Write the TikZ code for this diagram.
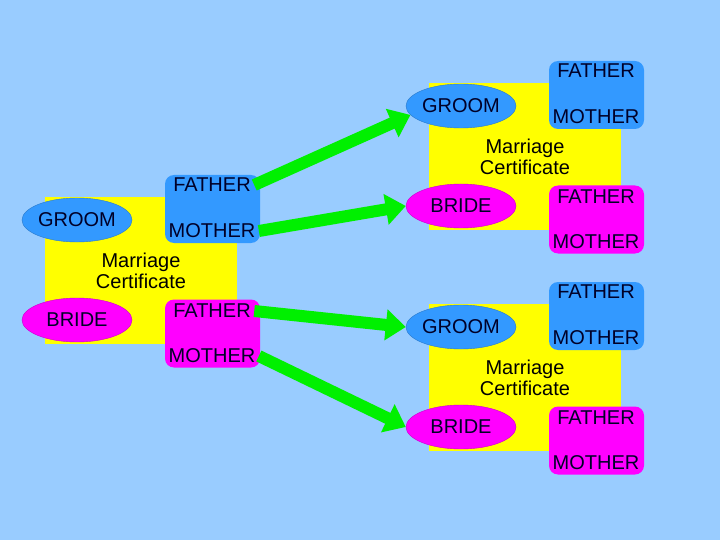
\documentclass[tikz,border=0pt]{standalone}
\usepackage{fontspec}
\setmainfont{Liberation Sans}
\usepackage{tikz}
\usetikzlibrary{shapes.geometric, arrows.meta}
\usetikzlibrary{positioning}

\definecolor{sky}{RGB}{153,204,255}
\definecolor{paper}{RGB}{255,255,0}
\definecolor{boy}{RGB}{51,153,255}
\definecolor{girl}{RGB}{255,0,255}
\definecolor{link}{RGB}{0,240,0}
\definecolor{ink}{RGB}{0,0,40}

\begin{document}
\begin{tikzpicture}[x=1pt, y=-1pt,
    every node/.style={font=\fontsize{20}{21}\selectfont, text=ink},
    person/.style={ellipse, minimum width=110pt, minimum height=44pt, inner sep=0pt},
    parents/.style={rectangle, rounded corners=9pt, minimum width=95pt, minimum height=68pt},
    pass/.style={line width=12pt, link, -{Triangle[length=20pt, width=30pt]}}]

\fill[sky] (0,0) rectangle (720,540);
\useasboundingbox (0,0) rectangle (720,540);

\foreach \n/\dx/\dy in {l/0/0, t/384/-114, b/384/107} {
\begin{scope}[shift={(\dx,\dy)}]
\fill[paper] (45,197) rectangle (237,344);
\node[person, fill=boy, draw=boy!80!black, line width=0.4pt] (\n groom) at (77,220) {GROOM};
\node[person, fill=girl, draw=girl!80!black, line width=0.4pt] (\n bride) at (77,320) {BRIDE};
\node[parents, fill=boy] (\n gbox) at (212.5,209) {};
\node[parents, fill=girl] (\n bbox) at (212.5,333.5) {};
\node (\n gf) at (212,185) {FATHER};
\node (\n gm) at (212,231) {MOTHER};
\node (\n bf) at (212,311) {FATHER};
\node (\n bm) at (212,356) {MOTHER};
\node[align=center, text=black] (\n cert) at (141,271) {Marriage\\Certificate};
\end{scope}
}

% each parent of the left couple
\draw[pass] (lgf.east) -- (tgroom.190);
\draw[pass] (lgm.east) -- (tbride.west);
\draw[pass] (lbf.east) -- (bgroom.west);
\draw[pass] (lbm.east) -- (bbride.west);

\end{tikzpicture}
\end{document}
